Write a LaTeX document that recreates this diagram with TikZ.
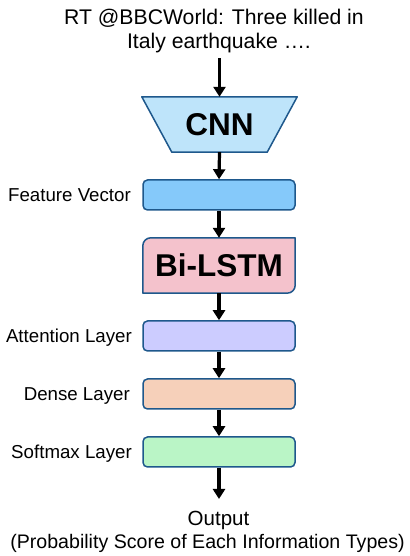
\documentclass[tikz,border=0pt]{standalone}
\usepackage{fontspec}
\setmainfont{Liberation Sans}
\usetikzlibrary{arrows.meta,calc,backgrounds}

\definecolor{edgeblue}{RGB}{30,88,140}
\definecolor{cnnfill}{RGB}{190,228,250}
\definecolor{fvfill}{RGB}{133,201,250}
\definecolor{lstmfill}{RGB}{244,194,204}
\definecolor{attfill}{RGB}{204,204,255}
\definecolor{densefill}{RGB}{246,208,186}
\definecolor{softfill}{RGB}{186,245,198}

% fixed line spacing, never pushed apart by \lineskip
\newcommand\fixedlines{\lineskiplimit-100pt\relax}

\tikzset{
  plain/.style={font=\fontsize{18.7}{23}\selectfont, inner sep=0pt},
  bigword/.style={font=\fontsize{31.5}{36}\selectfont\bfseries, inner sep=0pt},
  layerbox/.style={draw=edgeblue, line width=1.5pt, rounded corners=4.5pt,
    minimum width=152pt, minimum height=30pt, inner sep=0pt},
  sidelabel/.style={plain, anchor=base east},
  flow/.style={line width=3.2pt, -{Triangle[width=12pt,length=10pt]}},
}

\begin{document}
\begin{tikzpicture}[x=1pt,y=1pt]
  \useasboundingbox (0,0) rectangle (409,556);

  % input tweet
  \node[inner sep=0pt, align=center, anchor=north,
        font=\fontsize{21.2}{24}\selectfont\fixedlines] (tweet) at (219,547)
    {RT @BBCWorld: Three killed in\kern10pt\\Italy earthquake ….};

  % CNN trapezoid
  \node[bigword, minimum width=155pt, minimum height=55pt] (cnn) at (219.5,431.5) {CNN};
  \begin{scope}[on background layer]
    \draw[edgeblue, fill=cnnfill, line width=1.5pt, line join=round]
      (cnn.north west) -- (cnn.north east)
      -- ($(cnn.south east)+(-30,0)$) -- ($(cnn.south west)+(30,0)$) -- cycle;
  \end{scope}

  % feature vector
  \node[layerbox, fill=fvfill] (fv) at (219,361) {};
  \node[sidelabel] (fvlab) at (131,354.4) {Feature Vector};

  % Bi-LSTM box with two rounded corners
  \node[bigword, minimum width=152pt, minimum height=55pt] (lstm) at (219,290.5) {Bi-LSTM};
  \begin{scope}[on background layer]
    \draw[edgeblue, fill=lstmfill, line width=1.5pt, line join=round]
      (lstm.south west) -- ([yshift=-8pt]lstm.north west)
      arc[start angle=180, end angle=90, radius=8pt]
      -- (lstm.north east) -- ([yshift=8pt]lstm.south east)
      arc[start angle=0, end angle=-90, radius=8pt] -- cycle;
  \end{scope}

  % attention, dense, softmax
  \node[layerbox, fill=attfill] (att) at (219,220) {};
  \node[sidelabel] (attlab) at (132,213.4) {Attention Layer};
  \node[layerbox, fill=densefill] (dense) at (219,162) {};
  \node[sidelabel] (denselab) at (130,155.4) {Dense Layer};
  \node[layerbox, fill=softfill] (soft) at (219,104) {};
  \node[sidelabel] (softlab) at (132,97.4) {Softmax Layer};

  % output
  \node[inner sep=0pt, align=center, anchor=north,
        font=\fontsize{19.6}{23.3}\selectfont\fixedlines] (out) at (218.5,45)
    {{\fontsize{20.5}{23.3}\selectfont Output}\\(Probability Score of Each Information Types)\kern22pt};

  % connectors
  \draw[flow, shorten <=5pt] (tweet.south -| cnn.north) -- (cnn.north);
  \draw[flow] (cnn.south) -- (fv.north);
  \draw[flow] (fv.south) -- (lstm.north);
  \draw[flow] (lstm.south) -- (att.north);
  \draw[flow] (att.south) -- (dense.north);
  \draw[flow] (dense.south) -- (soft.north);
  \draw[flow, shorten >=12pt] (soft.south) -- (soft.south |- out.north);
\end{tikzpicture}
\end{document}
